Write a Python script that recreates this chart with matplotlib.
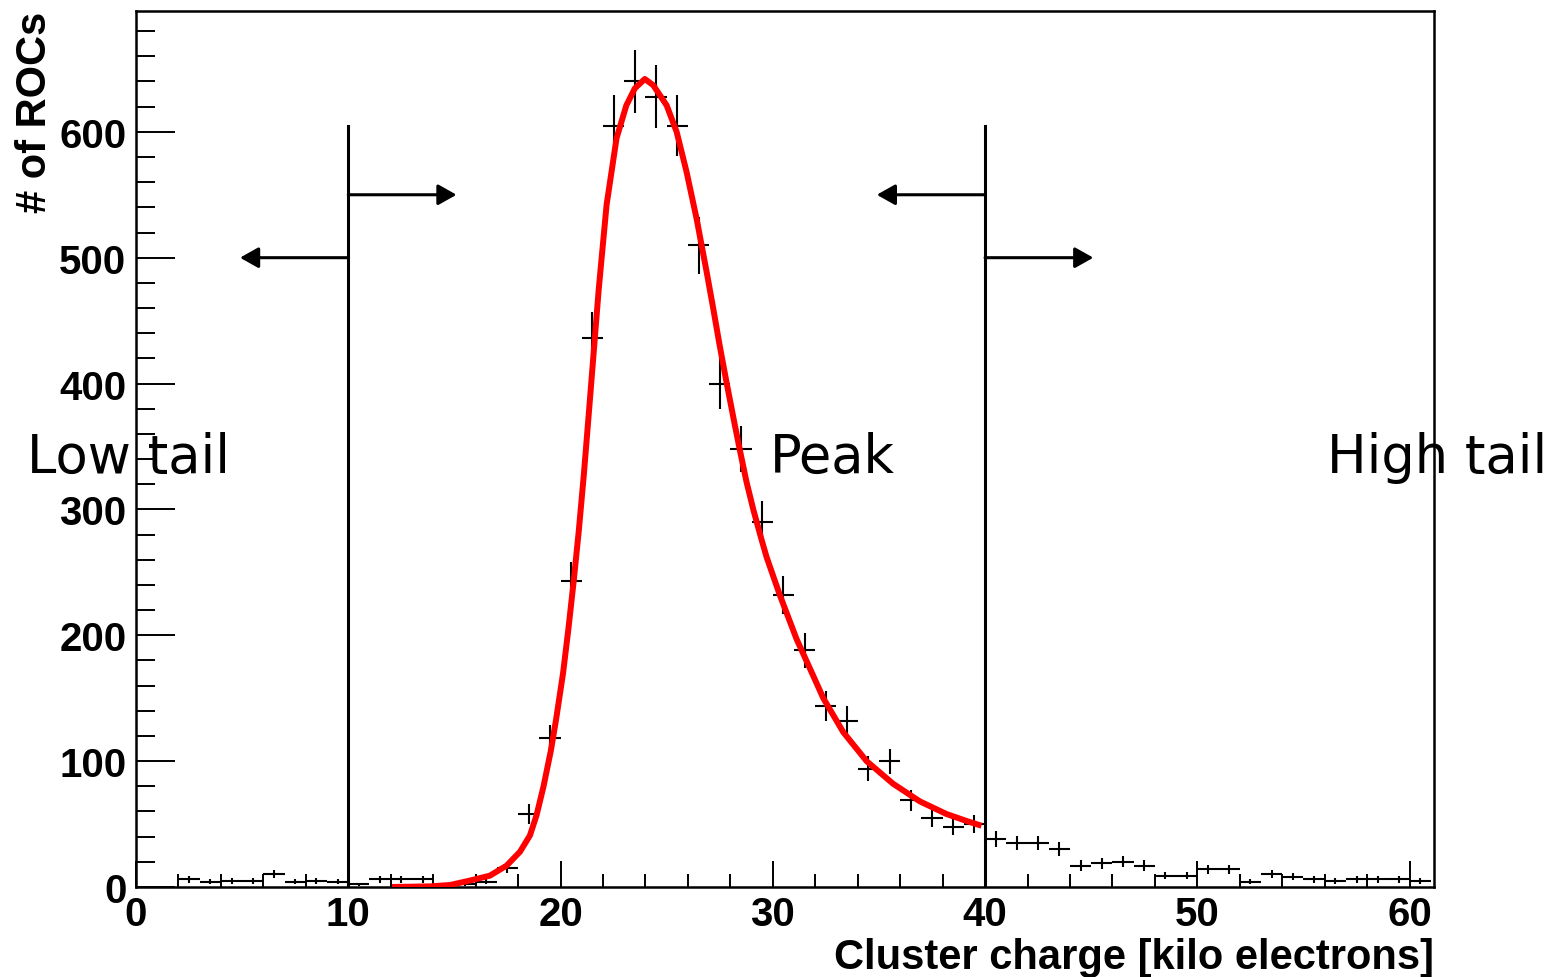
import numpy as np
import matplotlib
matplotlib.use("Agg")
import matplotlib.pyplot as plt
from matplotlib.ticker import MultipleLocator

# ---------------- data ----------------
bin_centers = [0.5, 1.5, 2.5, 3.5, 4.5, 5.5, 6.5, 7.5, 8.5, 9.5,
               10.5, 11.5, 12.5, 13.5, 14.5, 15.5, 16.5, 17.5, 18.5, 19.5,
               20.5, 21.5, 22.5, 23.5, 24.5, 25.5, 26.5, 27.5, 28.5, 29.5,
               30.5, 31.5, 32.5, 33.5, 34.5, 35.5, 36.5, 37.5, 38.5, 39.5,
               40.5, 41.5, 42.5, 43.5, 44.5, 45.5, 46.5, 47.5, 48.5, 49.5,
               50.5, 51.5, 52.5, 53.5, 54.5, 55.5, 56.5, 57.5, 58.5, 59.5,
               60.5]
counts = [0, 0, 6, 4, 5, 5, 10, 4, 5, 4,
          2, 6, 6, 6, 1, 2, 4, 15, 58, 118,
          243, 436, 605, 640, 628, 605, 510, 400, 348, 290,
          232, 188, 144, 132, 94, 100, 69, 55, 48, 50,
          38, 35, 35, 30, 17, 19, 20, 17, 9, 9,
          14, 14, 4, 10, 8, 6, 5, 6, 6, 6,
          5]

fit_x = [12.06, 13.85, 14.8, 15.7, 16.67, 17.46, 18.09, 18.56, 18.87, 19.2,
         19.54, 19.79, 20.12, 20.37, 20.62, 20.86, 21.1, 21.35, 21.8, 22.17,
         22.64, 23.1, 23.5, 23.97, 24.37, 25.0, 25.47, 25.94, 26.41, 26.88,
         27.19, 27.5, 27.82, 28.2, 28.45, 28.76, 29.08, 29.47, 29.71, 30.33,
         31.12, 31.9, 32.38, 33.32, 34.42, 35.67, 36.93, 38.18, 39.12, 39.83]
fit_y = [0, 0.5, 1.6, 5, 9, 17, 28, 41, 57, 80,
         108, 133, 170, 205, 243, 283, 328, 380, 475, 542,
         595, 621, 634.5, 642, 637, 621, 600, 568, 531, 489,
         460, 430, 401, 368, 347, 322, 300, 276, 262, 232,
         197, 168, 150, 123, 100, 82, 68, 58, 52.5, 48.7]

cut_positions = [10, 40]
cut_line_top = 605
arrow_right_y = [550, 500]
arrow_left_y = [500, 550]
arrow_length = 5.1

region_labels = ["Low tail", "Peak", "High tail"]
xlabel = "Cluster charge [kilo electrons]"
ylabel = "# of ROCs"

# ---------------- figure ----------------
W, H = 1552, 978
fig = plt.figure(figsize=(W / 100, H / 100), dpi=100)
L, R, T, B = 136, 1434, 12, 888
ax = fig.add_axes([L / W, (H - B) / H, (R - L) / W, (B - T) / H])

x = np.array(bin_centers)
y = np.array(counts, dtype=float)
m = y > 0
ax.errorbar(x[m], y[m], xerr=0.5, yerr=np.sqrt(y[m]), fmt="none",
            ecolor="black", elinewidth=1.5, capsize=0, zorder=2)

ax.plot(fit_x, fit_y, color="#ff0000", lw=4.3, solid_capstyle="butt",
        solid_joinstyle="round", zorder=3)

for c, yr, yl in zip(cut_positions, arrow_right_y, arrow_left_y):
    ax.plot([c, c], [0, cut_line_top], color="black", lw=2.2, zorder=4)
    for yy, d in ((yr, 1), (yl, -1)):
        ax.annotate("", xy=(c + d * arrow_length, yy), xytext=(c, yy),
                    arrowprops=dict(arrowstyle="-|>,head_length=0.8,head_width=0.45",
                                    lw=2.2, color="black", shrinkA=0, shrinkB=0,
                                    mutation_scale=14),
                    zorder=4)

ax.set_xlim(0, 61.15)
ax.set_ylim(0, 696)

ax.xaxis.set_major_locator(MultipleLocator(10))
ax.xaxis.set_minor_locator(MultipleLocator(2))
ax.yaxis.set_major_locator(MultipleLocator(100))
ax.yaxis.set_minor_locator(MultipleLocator(20))

ax.tick_params(axis="x", which="major", direction="in", length=18.7, width=1.4,
               top=False, pad=6)
ax.tick_params(axis="x", which="minor", direction="in", length=9.4, width=1.4, top=False)
ax.tick_params(axis="y", which="major", direction="in", length=28, width=1.4,
               right=False, pad=7)
ax.tick_params(axis="y", which="minor", direction="in", length=14, width=1.4, right=False)

for lab in ax.get_xticklabels() + ax.get_yticklabels():
    lab.set_fontfamily("Liberation Sans")
    lab.set_fontweight("bold")
    lab.set_fontsize(29)

for s in ax.spines.values():
    s.set_linewidth(1.8)

fig.text(R / W, (H - 958) / H, xlabel, ha="right", va="center",
         family="Liberation Sans", weight="bold", size=30)
fig.text(35 / W, (H - T) / H, ylabel, ha="center", va="top", rotation=90,
         family="Liberation Sans", weight="bold", size=30)

label_x_px = [27, 770, 1327]
for lbl, px in zip(region_labels, label_x_px):
    fig.text(px / W, (H - 473) / H, lbl, ha="left", va="baseline",
             family="DejaVu Sans", size=38)

fig.savefig("out.png", dpi=100)
